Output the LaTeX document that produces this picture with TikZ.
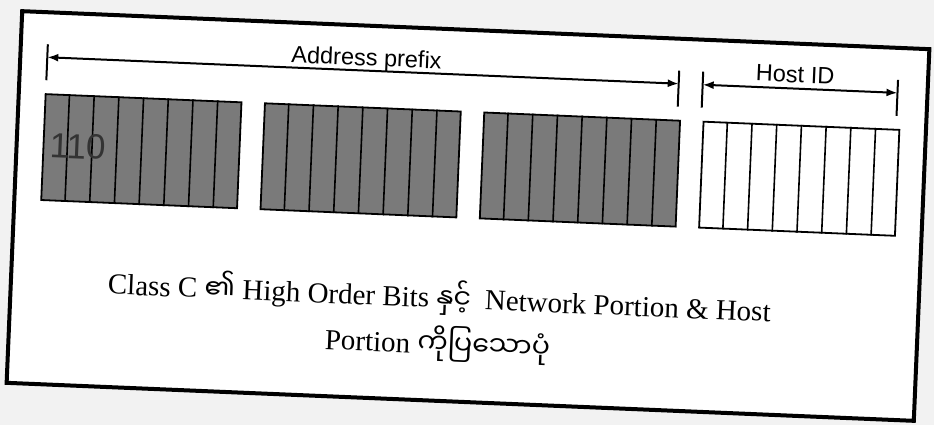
\documentclass[tikz,border=0pt]{standalone}
\usepackage{fontspec}
\setmainfont{Liberation Serif}
\newfontfamily\labelfont{Liberation Sans}
\newfontfamily\mmfont[Script=Myanmar]{Noto Sans Myanmar UI}
\usetikzlibrary{arrows.meta,calc}
\definecolor{blockgray}{HTML}{7A7A7A}
\definecolor{digitgray}{HTML}{333333}
\definecolor{paper}{HTML}{F2F2F2}
\begin{document}
\begin{tikzpicture}[x=1pt,y=-1pt,
  frame/.style={line width=4pt},
  bytebox/.style={draw=black, line width=1.8pt, fill=blockgray, minimum width=196pt,
    minimum height=106pt, inner sep=0pt, anchor=north west},
  hostbox/.style={bytebox, fill=white},
  cellline/.style={line width=1.6pt},
  tickline/.style={line width=2pt},
  dimline/.style={line width=2pt, {Latex[length=11pt,width=8pt]}-{Latex[length=11pt,width=8pt]}},
  lbl/.style={font=\labelfont\fontsize{23.5}{27}\selectfont, inner sep=0pt},
  digits/.style={font=\labelfont\fontsize{35}{40}\selectfont, text=digitgray, inner sep=0pt},
  captext/.style={font=\fontsize{29}{33}\selectfont, inner sep=0pt},
]
\useasboundingbox (0,0) rectangle (934,425);
\fill[paper] (0,0) rectangle (934,425);
\begin{scope}[rotate around={-2.4:(468,216)}, transform shape]
  \draw[frame, fill=white] (14,30) rectangle (922,402);
  % byte blocks
  \node[bytebox] (b1) at (40,111) {};
  \node[bytebox] (b2) at (259.5,111) {};
  \node[bytebox] (b3) at (479,111) {};
  \node[hostbox] (b4) at (698.5,111) {};
  \foreach \b in {b1,b2,b3,b4}{
    \foreach \i in {1,...,7}{
      \draw[cellline] ($(\b.north west)!\i/8!(\b.north east)$) -- ($(\b.south west)!\i/8!(\b.south east)$);
    }
  }
  \node[digits, anchor=base west] (hb) at (47,175) {110};
  % dimension ticks
  \coordinate (t1a) at (41,62);  \coordinate (t1b) at (41,98);
  \coordinate (t2a) at (673,62); \coordinate (t2b) at (673,98);
  \coordinate (t3a) at (697,62); \coordinate (t3b) at (697,98);
  \coordinate (t4a) at (892,62); \coordinate (t4b) at (892,98);
  \foreach \t in {1,2,3,4}{ \draw[tickline] (t\t a) -- (t\t b); }
  \coordinate (a1) at (41,75);  \coordinate (a2) at (673,75);
  \coordinate (h1) at (697,75); \coordinate (h2) at (892,75);
  \draw[dimline] (a1) -- (a2);
  \draw[dimline] (h1) -- (h2);
  \node[lbl, anchor=base] (ap) at (360,70) {Address prefix};
  \node[lbl, anchor=base] (hid) at (789,69) {Host ID};
  % caption
  \node[captext, anchor=base west] (cap1) at (111,309)
    {Class C {\mmfont\fontsize{27}{30}\selectfont ၏} High Order Bits {\mmfont\fontsize{27}{30}\selectfont နှင့်}\hspace{14pt}Network Portion \& Host};
  \node[captext, anchor=base] (cap2) at ($(cap1.base)+(0,46)$)
    {Portion {\mmfont\fontsize{27}{30}\selectfont ကိုပြသောပုံ}};
\end{scope}
\end{tikzpicture}
\end{document}
